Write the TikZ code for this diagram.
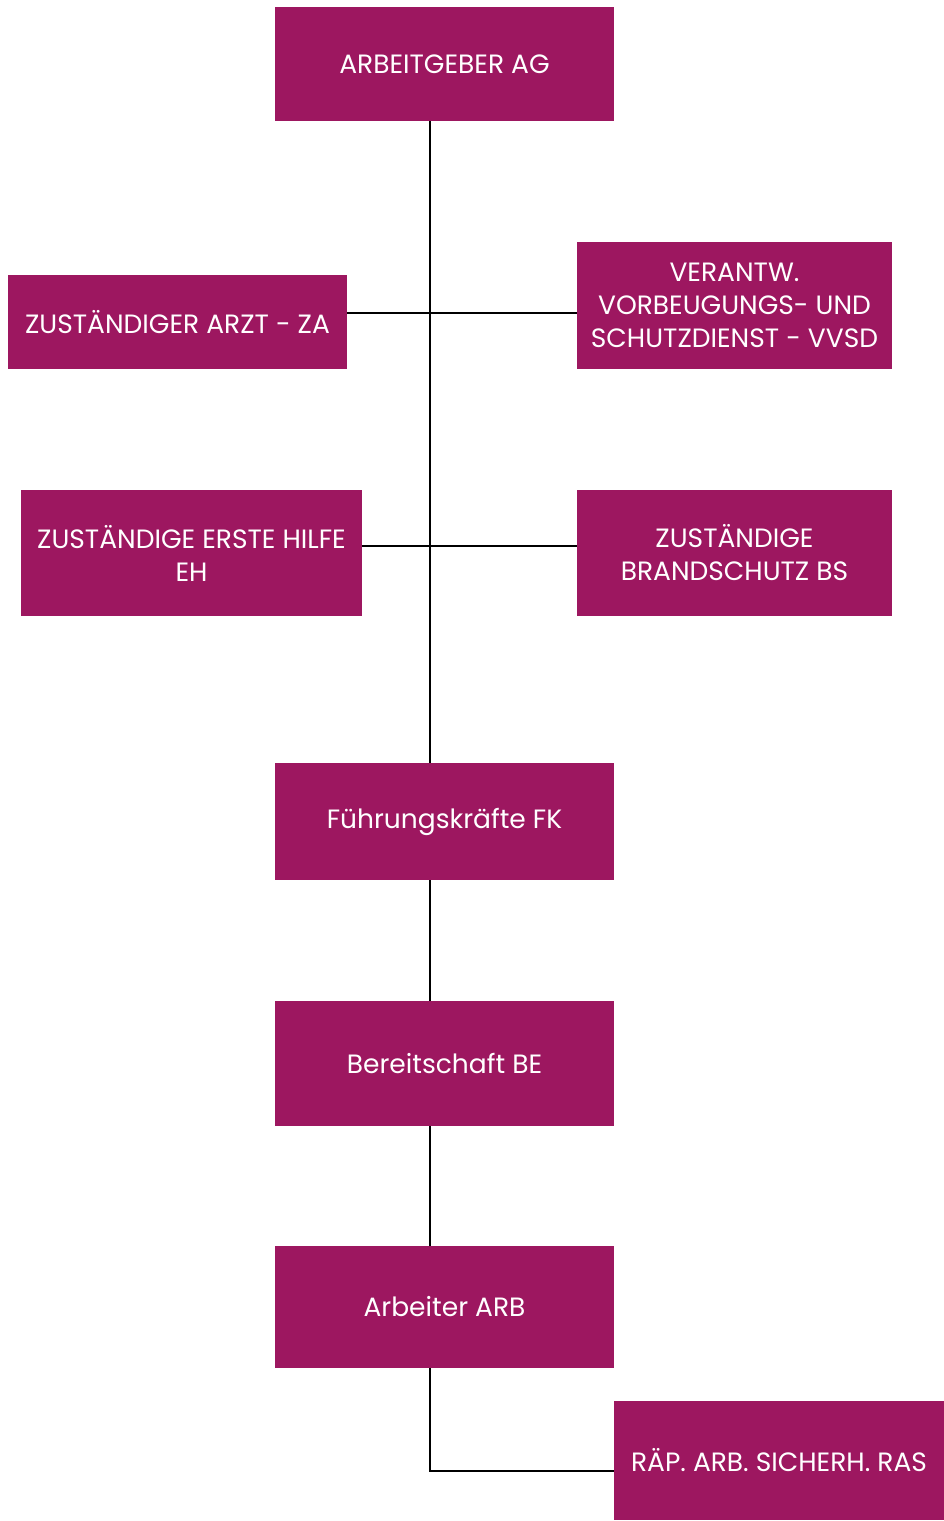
\documentclass[tikz,border=0pt]{standalone}
\usepackage{fontspec}
\setmainfont{Poppins}
\definecolor{orgpurple}{RGB}{157,23,96}

\begin{document}
\begin{tikzpicture}[x=1pt, y=-1pt,
        orgbox/.style={fill=orgpurple, text=white, inner sep=0pt, align=center,
            font=\fontsize{26.5}{33}\selectfont},
        orgline/.style={line width=1.6pt, black}]
                \useasboundingbox (0,0) rectangle (944,1521);
                \node[orgbox, minimum width=339, minimum height=114] (AG) at (444.5,64) {ARBEITGEBER AG};
                \node[orgbox, minimum width=339, minimum height=94] (ZA) at (177.5,322) {ZUSTÄNDIGER ARZT - ZA};
                \node[orgbox, minimum width=315, minimum height=127] (VVSD) at (734.5,305.5) {VERANTW.\\VORBEUGUNGS- UND\\SCHUTZDIENST - VVSD};
                \node[orgbox, minimum width=341, minimum height=126] (EH) at (191.5,553) {ZUSTÄNDIGE ERSTE HILFE\\EH};
                \node[orgbox, minimum width=315, minimum height=126] (BS) at (734.5,553) {ZUSTÄNDIGE\\BRANDSCHUTZ BS};
                \node[orgbox, minimum width=339, minimum height=117] (FK) at (444.5,821.5) {Führungskräfte FK};
                \node[orgbox, minimum width=339, minimum height=125] (BE) at (444.5,1063.5) {Bereitschaft BE};
                \node[orgbox, minimum width=339, minimum height=122] (ARB) at (444.5,1307) {Arbeiter ARB};
                \node[orgbox, minimum width=330, minimum height=119] (RAS) at (779,1460.5) {RÄP. ARB. SICHERH. RAS};
                \coordinate (spine) at (430,0);
                \coordinate (hZA) at (430,313);
                \coordinate (hEH) at (430,546);
                \coordinate (hRAS) at (430,1471);
                \draw[orgline] (AG.south -| spine) -- (FK.north -| spine);
                \draw[orgline] (ZA.east |- hZA) -- (VVSD.west |- hZA);
                \draw[orgline] (EH.east |- hEH) -- (BS.west |- hEH);
                \draw[orgline] (FK.south -| spine) -- (BE.north -| spine);
                \draw[orgline] (BE.south -| spine) -- (ARB.north -| spine);
                \draw[orgline] (ARB.south -| spine) -- (hRAS) -- (RAS.west |- hRAS);
            \end{tikzpicture}
\end{document}
